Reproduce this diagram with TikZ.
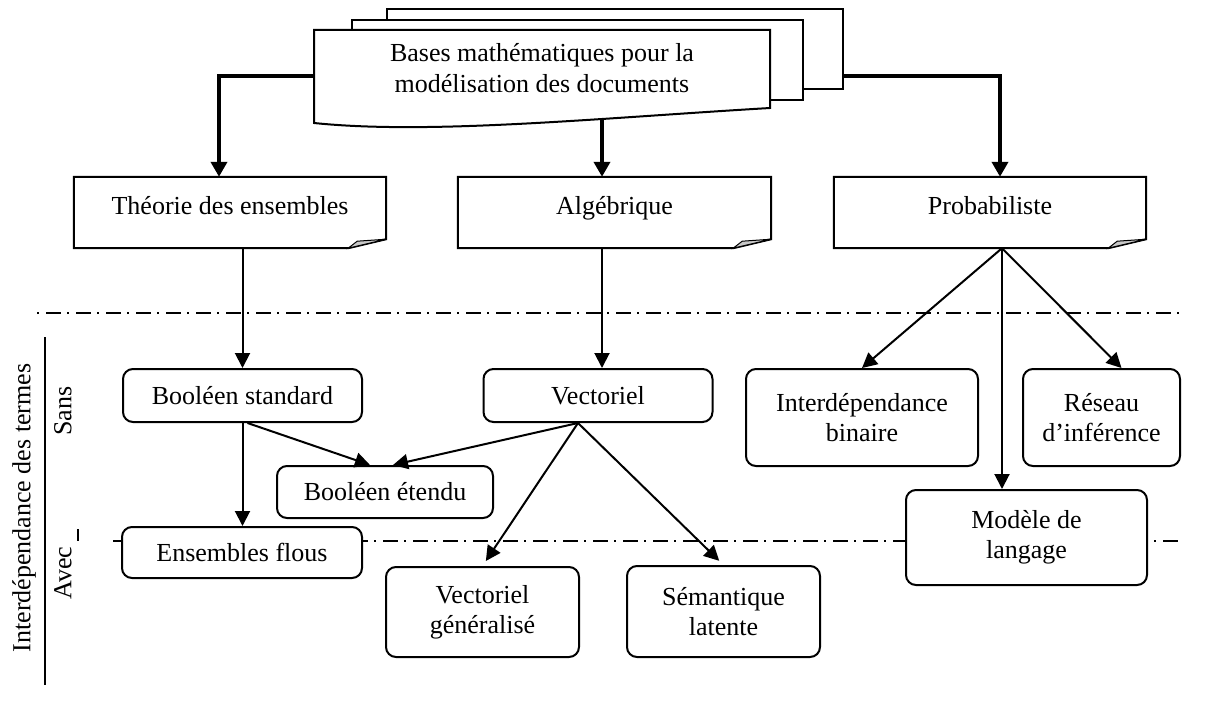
\documentclass[tikz,border=0pt]{standalone}
\usepackage{fontspec}
\setmainfont{Liberation Serif}
\usetikzlibrary{arrows.meta,backgrounds}

\definecolor{foldgray}{RGB}{200,200,200}

% outline of a page with a curled lower right corner
\newcommand\pageoutline[1]{%
  \draw[line width=2pt] (#1.north west) -- (#1.north east) -- ([yshift=9pt]#1.south east)
    -- ([xshift=-38pt]#1.south east) -- (#1.south west) -- cycle;
  \filldraw[fill=foldgray, line width=1pt] ([xshift=-38pt]#1.south east)
    -- ([xshift=-29pt,yshift=7pt]#1.south east) -- ([yshift=9pt]#1.south east) -- cycle;
}

\begin{document}
\begin{tikzpicture}[x=1pt,y=-1pt,
  every node/.style={font=\fontsize{26}{30}\selectfont, align=center, inner sep=0pt},
  roundbox/.style={draw, fill=white, rounded corners=10pt, line width=2pt},
  pagebox/.style={minimum width=312pt, minimum height=71pt, text height=18pt, text depth=14pt},
  sheetbox/.style={draw, fill=white, line width=2pt, minimum height=80pt},
  link/.style={line width=2pt, -{Triangle[length=15pt,width=15pt]}},
  thicklink/.style={line width=4pt, -{Triangle[length=15pt,width=16pt]}},
  sepline/.style={line width=1.5pt, dash pattern=on 2pt off 7pt on 15pt off 6pt},
]
\useasboundingbox (0,0) rectangle (1221,701);

% stacked sheets of the root document
\node[sheetbox, minimum width=456pt] (back2) at (615,49) {};
\node[sheetbox, minimum width=451pt] (back1) at (577.5,60) {};
\draw[fill=white, line width=2pt] (314,30) -- (770,30) -- (770,108)
  .. controls (600,118) and (430,135) .. (314,123) -- cycle;
\node[minimum width=456pt, minimum height=76pt, font=\fontsize{26}{31}\selectfont] (bases) at (542,68)
  {Bases mathématiques pour la\\modélisation des documents};

% the three families
\node[pagebox] (theo) at (230,212.5) {Théorie des ensembles};
\node[pagebox, minimum width=313pt] (alg) at (614.5,212.5) {Algébrique};
\node[pagebox] (prob) at (990,212.5) {Probabiliste};
\pageoutline{theo}
\pageoutline{alg}
\pageoutline{prob}

% models
\node[roundbox, minimum width=239pt, minimum height=53pt] (bstd) at (242.5,395.5) {Booléen standard};
\node[roundbox, minimum width=216pt, minimum height=52pt] (bext) at (385,492) {Booléen étendu};
\node[roundbox, minimum width=240pt, minimum height=51pt] (flous) at (242,552.5) {Ensembles flous};
\node[roundbox, minimum width=229pt, minimum height=53pt] (vect) at (598,395.5) {Vectoriel};
\node[roundbox, minimum width=193pt, minimum height=90pt] (vgen) at (482.5,612) {Vectoriel\\généralisé};
\node[roundbox, minimum width=193pt, minimum height=91pt] (sem) at (723.5,611.5) {Sémantique\\latente};
\node[roundbox, minimum width=232pt, minimum height=97pt] (ibin) at (862,417.5) {Interdépendance\\binaire};
\node[roundbox, minimum width=157pt, minimum height=97pt] (res) at (1101.5,417.5) {Réseau\\d’inférence};
\node[roundbox, minimum width=241pt, minimum height=95pt] (mod) at (1026.5,537.5) {Modèle de\\langage};

% side axis
\node[rotate=90] (axis) at (24,508) {Interdépendance des termes};
\node[rotate=90] (sans) at (63,411) {Sans};
\node[rotate=90] (avec) at (63,573) {Avec};
\draw[line width=2pt] (45,337) -- (45,685);
\draw[line width=1.5pt] (78,529) -- (78,541);

\coordinate (bl) at ([yshift=-8pt]bases.west);
\coordinate (pb) at ([xshift=12pt]prob.south);
\coordinate (vb) at ([xshift=-20pt]vect.south);

\begin{scope}[on background layer]
  % separators between the two groups of models
  \draw[sepline] (37,313) -- (1179,313);
  \draw[sepline, dash phase=9pt] (113,541) -- (1179,541);
  % from the root document to the families
  \draw[thicklink] (bl) -| ([xshift=-11pt]theo.north);
  \draw[thicklink] ([xshift=60pt]bases.south) -- ([xshift=60pt]bases.south |- alg.north);
  \draw[thicklink] (back2.east |- bl) -| ([xshift=10pt]prob.north);
\end{scope}

% from the families to the models
\draw[link] (bstd.north |- theo.south) -- (bstd.north);
\draw[link] ([xshift=4pt]vect.north |- alg.south) -- ([xshift=4pt]vect.north);
\draw[link] (pb) -- (ibin.north);
\draw[link] (pb) -- (pb |- mod.north);
\draw[link] (pb) -- ([xshift=20pt]res.north);
\draw[link] (bstd.south) -- (bstd.south |- flous.north);
\draw[link] ([xshift=5pt]bstd.south) -- ([xshift=-15pt]bext.north);
\draw[link] (vb) -- ([xshift=8pt]bext.north);
\draw[link, shorten >=6pt] (vb) -- (vgen.north);
\draw[link, shorten >=6pt] (vb) -- (sem.north);
\end{tikzpicture}
\end{document}
